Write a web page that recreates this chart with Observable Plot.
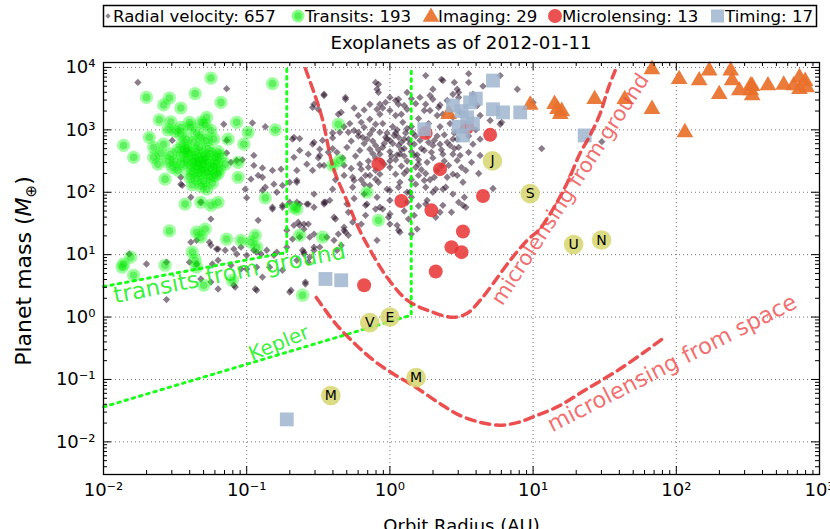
<!DOCTYPE html>
<html><head><meta charset="utf-8">
<script src="https://cdn.jsdelivr.net/npm/d3@7"></script>
<script src="https://cdn.jsdelivr.net/npm/@observablehq/plot@0.6"></script>
<style>
body{margin:0;background:#fff;}
#wrap{position:relative;width:830px;height:529px;overflow:hidden;background:#fff;font-family:"DejaVu Sans",sans-serif;}
#head{position:absolute;left:0;top:0;}
</style></head>
<body><div id="wrap"><div id="chart"></div><svg id="head" width="830" height="60"></svg></div>
<script>
// ---- data: [log10 orbit radius (AU), log10 planet mass (Earth masses)] ----
const radialVelocity = [
[-1.76,3.76],[-1.14,3.66],[-1.16,3.09],[-0.96,3.11],[-0.87,3.05],[-0.68,2.85],[-0.63,2.86],[-1.14,2.83],[-1.14,2.63],[-1.11,2.48],[-1.07,2.51],[-1.03,2.52],[-0.95,2.59],[-0.95,2.43],[-0.89,2.39],[-0.82,2.35],[-0.76,2.37],[-0.65,2.35],[-0.92,2.27],[-0.87,2.08],[-0.89,2.03],[-0.79,2.0],[-0.75,2.11],[-0.65,2.16],[-1.0,1.91],[-0.82,1.76],[-0.75,1.76],[-1.45,2.11],[-1.46,2.24],[-1.39,1.92],[-1.32,1.84],[-1.52,2.83],
[-1.25,1.57],[-0.92,1.55],[-0.63,1.47],[-0.57,1.49],[-0.53,1.33],[-1.39,1.20],[-1.35,1.23],[-1.25,1.15],[-1.20,1.09],[-1.15,1.07],[-1.09,1.09],[-1.04,1.12],[-1.07,1.01],[-1.0,0.99],[-0.95,1.07],[-0.90,1.01],[-0.86,1.07],[-0.79,1.04],[-0.72,1.12],[-0.68,1.25],[-0.63,1.28],[-0.60,1.04],[-0.53,1.07],[-0.57,0.88],[-0.65,0.91],[-1.70,0.85],[-1.56,0.88],[-1.40,0.88],[-1.35,0.85],[-1.24,0.85],[-1.20,0.91],[-1.11,0.83],[-1.04,0.77],[-1.32,0.61],[-1.25,0.56],[-1.20,0.45],[-1.08,0.48],[-0.93,0.43],[-1.56,0.28],[-0.70,0.40],[-1.0,0.77],[-0.93,0.80],[-0.84,0.80],[-0.75,0.75],[-0.89,0.64],
[-0.08,3.73],[-0.09,3.65],[0.25,3.87],[0.37,3.79],[0.45,3.76],[0.12,3.60],[0.06,3.49],[0.0,3.52],[-0.31,3.52],[-0.53,3.41],[-0.50,3.33],[-0.14,3.41],[-0.09,3.33],[-0.07,3.41],[-0.03,3.44],[0.04,3.47],[0.06,3.41],[0.10,3.39],[0.21,3.52],[0.25,3.41],[0.30,3.49],[0.34,3.36],[0.40,3.47],[0.44,3.57],[0.48,3.60],[-0.34,3.28],[-0.22,3.23],[-0.07,3.25],[0.0,3.31],[0.04,3.23],[0.08,3.25],[0.24,3.31],[0.28,3.31],[0.33,3.23],[0.37,3.25],[0.44,3.20],[0.49,3.28],[-0.14,3.17],[-0.10,3.09],[-0.18,3.04],[-0.25,2.99],[-0.35,2.96],[-0.67,2.88],[-0.53,2.80],[-0.47,2.83],[-0.40,2.87],
[-0.29,2.96],[-0.22,2.96],[-0.19,2.88],[-0.14,2.93],[-0.07,2.96],[-0.03,2.88],[0.0,2.83],[0.03,2.91],[0.06,2.88],[0.08,2.80],[0.13,2.85],[0.17,2.77],[0.21,2.83],[0.31,2.83],[0.35,2.77],[0.40,2.80],[0.44,2.85],[0.48,2.72],
[0.02,2.78],[0.06,2.75],[-0.05,2.72],[0.1,2.70],[0.0,2.65],[-0.1,2.75],[0.15,2.65],
[-0.63,2.67],[-0.57,2.61],[-0.49,2.69],[-0.43,2.64],[-0.37,2.64],[-0.30,2.72],[-0.21,2.67],[-0.14,2.69],[-0.07,2.61],[0.07,2.61],[0.17,2.59],[0.24,2.67],[0.29,2.64],[0.37,2.61],[0.44,2.61],
[-0.49,2.43],[-0.21,2.45],[-0.15,2.40],[0.0,2.40],[0.04,2.29],[0.12,2.35],[0.18,2.40],[0.26,2.48],[0.33,2.35],[0.41,2.43],[0.47,2.51],
[-0.32,2.27],[-0.26,2.24],[-0.17,2.27],[-0.10,2.21],[-0.07,2.29],[0.2,2.27],[0.24,2.19],[0.31,2.24],[0.40,2.24],[0.44,2.29],
[-0.26,2.08],[-0.18,2.13],[-0.14,2.11],[0.0,2.03],[0.06,2.08],[0.12,2.0],[0.25,2.08],[0.30,2.0],[0.37,2.05],[0.44,1.97],
[-0.18,1.97],[-0.09,1.92],[0.0,1.87],[0.15,1.92],[0.26,1.87],[-0.53,1.97],[-0.42,1.87],[-0.30,1.81],[-0.75,1.79],[-0.70,1.84],[-0.63,1.81],[-0.53,1.76],[-0.16,1.81],[-0.10,1.73],[-0.54,2.35],[-0.67,2.56],
[-0.46,3.57],[-0.31,3.49],[-0.10,3.76],[-0.08,3.60],
[0.36,3.81],[0.47,3.65],[0.55,3.76],[0.48,3.52],[0.58,3.57],[0.61,3.39],[0.89,3.65],[0.63,3.23],[0.70,3.15],[0.78,3.12],[0.47,2.85],[0.58,2.77],[0.63,2.85],[1.06,2.70],[0.49,2.59],[0.55,2.64],[0.57,2.48],[0.63,2.59],[0.53,2.35],[0.47,2.27],[0.51,2.16],[0.72,2.06],[0.52,1.92],[0.48,1.84],[0.53,1.76],[0.39,2.08],[0.32,2.05],[0.18,2.13],[0.37,1.79],[0.43,1.68],[0.32,1.60],
[-0.32,2.43],[-0.25,2.19],[-0.20,2.37],[-0.14,2.27],[-0.08,2.16],[-0.02,2.05],[-0.45,1.84],[-0.38,1.57],[-0.32,1.39],[-0.26,1.52],[-0.05,1.73],[-0.01,1.60],[0.05,1.47],[0.13,1.57],[0.19,1.41],[0.07,2.16],[0.14,2.0],[0.12,1.84],
[-0.57,1.81],[-0.46,1.81],[-0.17,1.79],[-0.29,1.68],[-0.17,1.63],[-0.07,1.76],[0.0,1.65],[0.17,1.63],[0.25,1.81],[0.35,1.68],[0.51,1.79],[-0.39,1.60],[-0.32,1.44],[-0.29,1.31],[0.0,1.49],[0.06,1.39],[0.15,1.33],[-0.09,1.23],[-0.72,1.39],[-0.67,1.47],[-0.60,1.49],[-0.56,1.28],[-0.53,1.12],[-0.44,1.28],[-0.39,1.23],[-0.36,1.33],[-0.34,1.15],[-0.61,1.07],[-0.60,1.01],[-0.56,0.96],[-0.59,0.53],[-0.69,0.43],
[-1.09,0.51],[-0.94,0.45],[-0.59,0.56],[-1.82,1.01],[-1.26,1.20],[-1.21,1.09],[-0.93,1.04],[-0.81,0.99],[-0.49,1.12],[-0.37,1.07],[-0.31,1.36],[0.07,1.36],[-0.20,1.49],
[-0.54,2.77],[-0.49,2.59],[-0.46,2.43],[-0.54,3.36],[-0.46,3.55],[-0.36,3.25],[-0.97,2.21],[-0.89,2.24],[-0.81,2.13],[-0.70,2.16],[-0.65,2.19],[-1.01,2.05],[-0.82,1.73],[-0.65,1.84],[-0.58,1.81],[-0.46,1.84],[-0.60,1.41],[-0.64,1.52],[-1.46,2.13],
[0.77,3.87],[1.0,3.44],[0.77,3.09],[1.48,2.81],
[-0.25,3.35],[-0.2,3.12],[-0.12,3.0],[-0.05,3.1],[0.02,3.05],[0.09,3.12],[0.15,3.05],[0.2,3.18],[0.27,3.1],[0.35,3.05],[0.42,3.1],[0.5,3.0],[-0.27,2.82],[-0.18,2.78],[-0.02,2.95],[0.11,2.95],[0.18,2.9],[0.26,2.92],[0.38,2.92],[0.45,2.7],[-0.33,2.55],[-0.24,2.58],[-0.1,2.55],[0.04,2.52],[0.12,2.5],[0.2,2.52],[0.3,2.55],[0.38,2.5],[-0.27,2.38],[-0.04,2.45],[0.08,2.42],[0.22,2.36],[0.36,2.42],[-0.4,2.7],[-0.28,3.1],[0.12,3.33],[0.18,3.42],[-0.18,3.32],[0.3,2.75],[0.05,2.6],[-0.12,2.82],[0.1,2.85],[-0.06,2.5],[0.15,2.2],[-0.2,2.2],[0.28,2.2],[-0.38,2.2],[-0.4,2.05],[0.1,1.7],[-0.25,1.9],[0.2,1.78],[-0.5,2.55],[-0.58,2.45],[0.62,2.3],[0.6,3.0],[0.65,3.7],[0.55,3.9],[0.3,3.65],
[-0.02,2.85],[0.04,2.95],[0.08,2.68],[0.14,2.78],[0.19,2.6],[-0.08,2.68],[0.01,2.58],[0.1,2.58],[-0.04,2.78],[0.16,2.95],[0.22,2.7],[0.05,3.0],[-0.12,2.62],[0.12,3.02],[0.27,2.8],[0.33,2.9],[0.36,2.68],[0.42,2.75],[-0.16,2.85],[-0.22,2.9],[0.0,2.5],[0.2,2.45],[-0.15,2.5],[0.35,3.4],[0.28,3.55],[0.15,3.5],[-0.05,3.35],[0.42,3.3],[-0.32,3.05],[-0.4,2.95],[0.1,2.3],[-0.1,2.35],[0.25,2.3],[0.5,2.4],[0.55,2.9],[0.45,2.95]
];
const transits = [
[-1.25,3.83],[-0.82,3.74],[-1.70,3.52],[-1.54,3.51],[-1.36,3.58],[-1.58,3.40],[-1.46,3.35],[-1.18,3.44],[-1.61,3.16],[-1.53,3.13],[-1.40,3.12],[-1.32,3.12],[-1.29,3.08],[-1.07,3.12],[-0.99,2.96],[-0.80,3.0],[-1.86,2.75],[-1.79,2.56],[-1.68,2.88],[-1.65,2.72],[-1.65,2.56],[-1.58,2.77],[-1.53,2.61],[-1.46,2.93],[-1.45,2.77],[-1.42,2.67],[-1.37,2.80],[-1.32,2.88],[-1.28,2.83],[-1.25,2.99],[-1.39,3.04],[-1.46,3.04],[-1.23,2.85],[-1.21,2.48],[-1.19,2.37],[-1.22,2.27],[-1.13,2.85],[-1.06,2.48],[-1.06,2.24],[-1.02,2.77],[-1.57,2.21],[-1.43,1.81],[-1.32,1.84],[-1.25,1.79],[-1.20,1.84],[-0.87,1.91],[-0.67,1.76],
[-1.45,2.60],[-1.40,2.62],[-1.35,2.65],[-1.30,2.60],[-1.25,2.62],[-1.42,2.52],[-1.37,2.50],[-1.32,2.52],[-1.27,2.48],[-1.22,2.55],[-1.40,2.42],[-1.35,2.40],[-1.30,2.44],[-1.25,2.38],[-1.45,2.45],[-1.38,2.33],[-1.33,2.30],[-1.28,2.32],[-1.23,2.42],[-1.35,2.22],[-1.30,2.18],[-1.26,2.25],[-1.40,2.25],[-1.32,2.10],[-1.28,2.05],[-1.38,2.12],[-1.48,2.35],[-1.50,2.50],[-1.36,2.56],[-1.31,2.36],[-1.29,2.55],[-1.34,2.46],[-1.42,2.70],[-1.33,2.72],[-1.27,2.70],[-1.20,2.65],[-1.18,2.58],[-1.48,2.68],[-1.55,2.50],[-1.52,2.40],[-1.60,2.62],[-1.62,2.45],[-1.24,2.15],[-1.20,2.30],[-1.15,2.45],[-1.42,2.85],[-1.50,2.98],[-1.35,2.95],[-1.28,3.20],[-1.55,3.00],
[-0.65,1.73],[-1.54,1.38],[-1.35,1.36],[-1.29,1.41],[-1.32,1.28],[-1.14,1.25],[-1.04,1.23],[-0.97,1.20],[-0.94,1.31],[-0.93,1.12],[-0.63,1.31],[-1.38,1.04],[-1.36,0.91],[-1.35,0.80],[-1.81,0.96],[-1.87,0.80],[-1.79,0.67],[-1.57,0.83],[-1.30,0.51],[-0.61,0.35],
[-0.36,3.09],[-0.40,2.43],[-0.35,2.51],[-0.16,2.0],[-0.08,1.55],[-0.47,1.28],[-1.10,0.59],[-1.86,0.85]
];
const imaging = [
[0.98,3.40],[1.15,3.41],[1.17,3.33],[1.19,3.25],[1.43,3.49],[1.64,3.49],[1.83,3.97],[1.83,3.33],[2.02,3.81],[2.06,2.96],[2.16,3.79],[2.23,3.95],[2.30,3.57],[2.38,3.95],[2.39,3.79],[2.44,3.63],[2.52,3.71],[2.52,3.63],[2.53,3.55],[2.64,3.71],[2.82,3.71],[2.86,3.84],[2.91,3.68],[2.86,3.65],[0.41,3.25],[2.75,3.72],[2.90,3.78],[1.20,3.30],[2.53,3.70]
];
const microlensing = [
[0.25,2.95],[0.54,3.04],[0.70,2.92],[-0.08,2.45],[0.35,2.37],[0.08,1.86],[0.29,1.71],[0.65,1.94],[0.51,1.37],[0.43,1.12],[0.50,1.04],[0.32,0.73],[-0.18,0.51]
];
const timing = [
[0.72,3.79],[0.44,3.39],[0.56,3.44],[0.54,3.20],[0.72,3.33],[0.79,3.28],[0.91,3.28],[0.24,3.01],[0.51,2.91],[1.36,2.91],[-0.45,0.61],[-0.34,0.59],[-0.72,-1.64],[0.50,3.30],[0.48,3.05],[0.60,3.50],[0.58,3.10]
];
const planetNames = ["M","V","E","M","J","S","U","N"];
const planetRadius = [0.387, 0.723, 1.0, 1.524, 5.203, 9.537, 19.19, 30.07];
const planetMass = [0.0553, 0.815, 1.0, 0.107, 317.8, 95.16, 14.54, 17.15];
// detection limit curves (log10 radius, log10 mass)
const transitsGroundCurve = [[-2,0.49],[-0.72,1.035],[-0.72,4.0]];
const keplerCurve = [[-2,-1.44],[0.149,0.03],[0.149,4.0]];
const microGroundCurve = [[-0.590,3.98],[-0.535,3.63],[-0.472,3.18],[-0.395,2.39],[-0.290,1.81],[-0.220,1.43],[-0.137,1.07],[-0.018,0.63],[0.121,0.27],[0.261,0.11],[0.442,-0.005],[0.540,0.06],[0.631,0.27],[0.722,0.54],[0.840,0.91],[0.959,1.23],[1.050,1.42],[1.154,1.79],[1.238,2.15],[1.329,2.63],[1.398,2.91],[1.468,3.26],[1.524,3.66],[1.573,3.95]];
const microSpaceCurve = [[-0.514,0.315],[-0.381,-0.10],[-0.248,-0.42],[-0.116,-0.69],[0.017,-0.90],[0.177,-1.12],[0.345,-1.38],[0.512,-1.60],[0.742,-1.73],[0.875,-1.70],[1.0,-1.60],[1.168,-1.44],[1.364,-1.17],[1.594,-0.85],[1.796,-0.53],[1.908,-0.34]];
const legendLabels = ["Radial velocity: 657","Transits: 193","Imaging: 29","Microlensing: 13","Timing: 17"];
const titleText = "Exoplanets as of 2012-01-11";
const xTickValues = [0.01,0.1,1,10,100,1000];
const yTickValues = [0.01,0.1,1,10,100,1000,10000];

// ---- build ----
const pts = arr => arr.map(([a,m]) => ({a: Math.pow(10,a), m: Math.pow(10,m)}));
const rv = pts(radialVelocity), tr = pts(transits), im = pts(imaging), ml = pts(microlensing), ti = pts(timing);
const solar = planetNames.map((n,i)=>({n, a: planetRadius[i], m: planetMass[i]}));
const tg = pts(transitsGroundCurve), kp = pts(keplerCurve), mg = pts(microGroundCurve), ms = pts(microSpaceCurve);

const W=830,H=529,mL=103,mR=11,mT=62,mB=55;
const pH = H-mT-mB, pW = W-mL-mR;
const supMap = {"-":"⁻","0":"⁰","1":"¹","2":"²","3":"³","4":"⁴","5":"⁵"};
const fmt = d => "10" + String(Math.round(Math.log10(d))).split("").map(c=>supMap[c]).join("");
const minor = (lo,hi,dom) => { const r=[]; for(let e=lo;e<=hi;e++) for(let k=2;k<=9;k++){const v=k*Math.pow(10,e); if(v>dom[0]&&v<dom[1]) r.push(v);} return r; };
const xDom=[0.01,1000], yDom=[0.003,12000];
const xMinor = minor(-2,2,xDom), yMinor = minor(-3,4,yDom);
const xMajor = xTickValues, yMajor = yTickValues.filter(v=>v>=yDom[0]&&v<=yDom[1]);

const greenLine = {x:"a", y:"m", stroke:"#00ff00", strokeOpacity:0.9, strokeWidth:3, strokeDasharray:"2.5,5"};
const redLine = {x:"a", y:"m", stroke:"#e83030", strokeOpacity:0.85, strokeWidth:3.5, strokeDasharray:"9,6", curve:"catmull-rom"};

const chart = Plot.plot({
  width:W, height:H, marginLeft:mL, marginRight:mR, marginTop:mT, marginBottom:mB,
  style:{fontFamily:"DejaVu Sans", fontSize:"16px", background:"transparent", color:"black"},
  x:{type:"log", domain:xDom, label:null},
  y:{type:"log", domain:yDom, label:null},
  marks:[
    Plot.gridX(xMajor, {stroke:"#000", strokeOpacity:0.55, strokeDasharray:"1,3"}),
    Plot.gridY(yMajor, {stroke:"#000", strokeOpacity:0.55, strokeDasharray:"1,3"}),
    Plot.dot(rv, {x:"a", y:"m", symbol:"diamond2", r:3.3, fill:"#2a1028", fillOpacity:0.55}),
    Plot.dot(tr, {x:"a", y:"m", r:6.6, fill:"#00ff00", fillOpacity:0.38}),
    Plot.dot(tr, {x:"a", y:"m", r:3.8, fill:"#00dd00", fillOpacity:0.4}),
    Plot.dot(im, {x:"a", y:"m", symbol:"triangle", r:6.2, fill:"#e8702a", fillOpacity:0.92}),
    Plot.dot(ml, {x:"a", y:"m", r:7, fill:"#e83333", fillOpacity:0.85}),
    Plot.dot(ti, {x:"a", y:"m", symbol:"square", r:7.8, fill:"#9fb5cf", fillOpacity:0.85}),
    Plot.line(tg, greenLine),
    Plot.line(kp, greenLine),
    Plot.line(mg, redLine),
    Plot.line(ms, redLine),
    Plot.text(["transits from ground"], {x:0.0759, y:5.0, text:d=>d, rotate:-11, fontSize:23, fill:"#22ee22", fillOpacity:0.9}),
    Plot.text(["Kepler"], {x:0.168, y:0.38, text:d=>d, rotate:-22, fontSize:20, fill:"#22ee22", fillOpacity:0.9}),
    Plot.text(["microlensing from ground"], {x:18.2, y:112, text:d=>d, rotate:-57, fontSize:21, fill:"#ee4848", fillOpacity:0.8}),
    Plot.text(["microlensing from space"], {x:93.5, y:0.182, text:d=>d, rotate:-27, fontSize:22.5, fill:"#ee4848", fillOpacity:0.8}),
    Plot.dot(solar, {x:"a", y:"m", r:9.8, fill:"#d6d670", fillOpacity:0.85}),
    Plot.text(solar, {x:"a", y:"m", text:"n", fontSize:14, fill:"black"}),
    // inside ticks
    Plot.tickX(xMajor, {x:d=>d, insetTop:pH-8, stroke:"black"}),
    Plot.tickX(xMajor, {x:d=>d, insetBottom:pH-8, stroke:"black"}),
    Plot.tickX(xMinor, {x:d=>d, insetTop:pH-4, stroke:"black"}),
    Plot.tickX(xMinor, {x:d=>d, insetBottom:pH-4, stroke:"black"}),
    Plot.tickY(yMajor, {y:d=>d, insetRight:pW-8, stroke:"black"}),
    Plot.tickY(yMajor, {y:d=>d, insetLeft:pW-8, stroke:"black"}),
    Plot.tickY(yMinor, {y:d=>d, insetRight:pW-4, stroke:"black"}),
    Plot.tickY(yMinor, {y:d=>d, insetLeft:pW-4, stroke:"black"}),
    Plot.axisX(xMajor, {tickSize:0, tickPadding:9, tickFormat:fmt, fontSize:18, label:null}),
    Plot.axisY(yMajor, {tickSize:0, tickPadding:8, tickFormat:fmt, fontSize:18, label:null}),
    Plot.text(["Orbit Radius (AU)"], {frameAnchor:"bottom", text:d=>d, dy:57, lineAnchor:"bottom", fontSize:18}),
    Plot.frame({stroke:"black", strokeWidth:1.3})
  ]
});
document.getElementById("chart").appendChild(chart);

// y label with italic M and subscript ⊕
const svg = d3.select(chart);
const yl = svg.append("text").attr("transform","translate(31,271) rotate(-90)")
  .attr("text-anchor","middle").attr("font-family","DejaVu Sans").attr("font-size",22).attr("fill","black");
yl.append("tspan").text("Planet mass (");
yl.append("tspan").attr("font-style","italic").text("M");
yl.append("tspan").attr("font-size",15).attr("dy",5).text("⊕");
yl.append("tspan").attr("dy",-5).text(")");

// legend + title
const head = d3.select("#head");
head.append("rect").attr("x",103.5).attr("y",5.5).attr("width",713).attr("height",21).attr("fill","white").attr("stroke","black").attr("stroke-width",1.5);
const lx = [113, 305, 438, 562, 725];
const ly = 21.5;
legendLabels.forEach((t,i)=>{
  head.append("text").attr("x",lx[i]).attr("y",ly).attr("font-family","DejaVu Sans").attr("font-size",16.6).attr("fill","black").text(t);
});
const sym = (type, size) => d3.symbol().type(type).size(size)();
head.append("path").attr("d",sym(d3.symbolDiamond2,18)).attr("transform","translate(108,16)").attr("fill","#2a1028").attr("fill-opacity",0.5);
head.append("circle").attr("cx",298).attr("cy",16).attr("r",6.5).attr("fill","#00ff00").attr("fill-opacity",0.45);
head.append("circle").attr("cx",298).attr("cy",16).attr("r",3.8).attr("fill","#00dd00").attr("fill-opacity",0.4);
head.append("path").attr("d",sym(d3.symbolTriangle,120)).attr("transform","translate(431,17)").attr("fill","#e8702a").attr("fill-opacity",0.92);
head.append("circle").attr("cx",555).attr("cy",16).attr("r",7).attr("fill","#e83333").attr("fill-opacity",0.85);
head.append("rect").attr("x",711).attr("y",9.5).attr("width",13).attr("height",13).attr("fill","#9fb5cf").attr("fill-opacity",0.85);
head.append("text").attr("x",461).attr("y",49).attr("text-anchor","middle").attr("font-family","DejaVu Sans").attr("font-size",18.2).attr("fill","black").text(titleText);
</script></body></html>
